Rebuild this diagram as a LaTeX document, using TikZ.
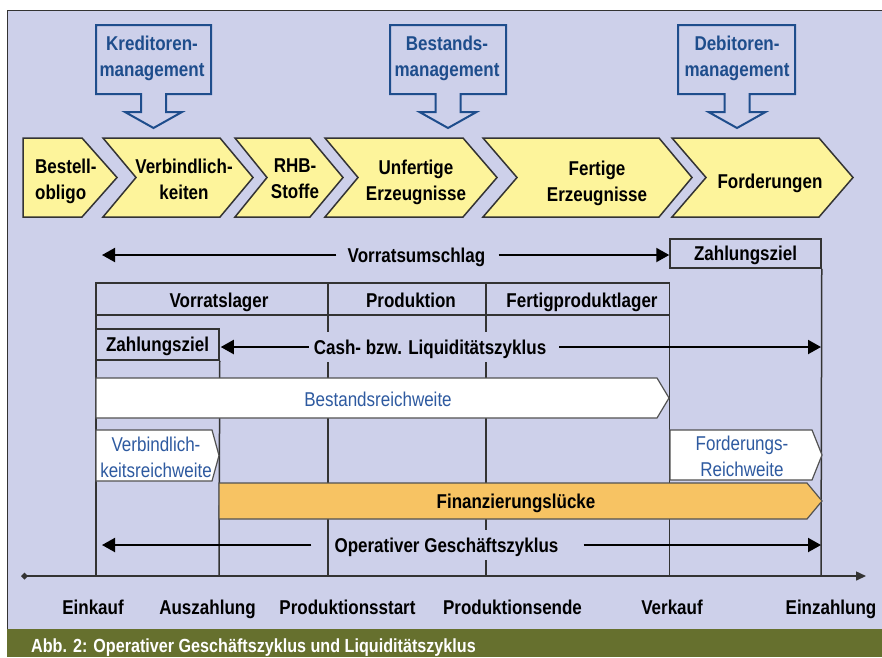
\documentclass[tikz,border=0pt]{standalone}
\usepackage{fontspec}
\setmainfont{Liberation Sans}[FakeStretch=0.85]
\usetikzlibrary{arrows.meta}
\definecolor{panel}{HTML}{CDD0EA}
\definecolor{chevfill}{HTML}{FDF49B}
\definecolor{gapfill}{HTML}{F7C363}
\definecolor{mgmtblue}{HTML}{1E4D8C}
\definecolor{rangeblue}{HTML}{2E5AA0}
\definecolor{capbar}{HTML}{66702E}
\definecolor{rulecol}{HTML}{333333}
\begin{document}
\begin{tikzpicture}[x=1pt,y=-1pt,
  every node/.style={font=\fontsize{20}{26}\selectfont, inner sep=0pt},
  lbl/.style={font=\fontsize{20}{26}\selectfont\bfseries, text height=14.5pt, text depth=0pt},
  ml/.style={font=\fontsize{20}{26}\selectfont\bfseries, align=center},
  rng/.style={font=\fontsize{20}{26}\selectfont, text=rangeblue, align=center},
  gridline/.style={draw=rulecol, line width=1.5pt},
  chev/.style={draw=rulecol, line width=1.5pt, fill=chevfill, line join=miter},
  callout/.style={draw=mgmtblue, line width=2pt, fill=panel, line join=miter},
  arr/.style={draw=black, line width=2pt, -{Triangle[length=13pt,width=14pt]}},
  band/.style={draw=rulecol!85, line width=1.2pt, line join=miter},
  cell/.style={lbl, draw=rulecol, line width=1.5pt, fill=panel},
  gap/.style={lbl, fill=panel, inner xsep=2pt, inner ysep=8pt},
]
\useasboundingbox (0,0) rectangle (882,657);
\fill[white] (0,0) rectangle (882,657);

% panel and caption bar
\fill[panel] (7,10) rectangle (882,629);
\draw[rulecol, line width=1pt] (7,629) -- (7,10) -- (882,10);
\fill[capbar] (7,629) rectangle (882,657);
\node[font=\fontsize{19}{22}\selectfont\bfseries, text=white, anchor=base west]
  (caption) at (31,652) {Abb. 2: Operativer Geschäftszyklus und Liquiditätszyklus};

% management callouts
\foreach \xa/\xb/\c in {96/211/153.5, 390/506/448, 678/795/737}{
  \draw[callout] (\xa,25) -- (\xb,25) -- (\xb,94) -- (\c+12.5,94) -- (\c+12.5,112)
    -- (\c+28.5,112) -- (\c,128) -- (\c-28.5,112) -- (\c-12.5,112) -- (\c-12.5,94)
    -- (\xa,94) -- cycle;
}
\node[ml, text=mgmtblue] (kred) at (152,58) {Kreditoren-\\management};
\node[ml, text=mgmtblue] (best) at (447,58) {Bestands-\\management};
\node[ml, text=mgmtblue] (debi) at (737,58) {Debitoren-\\management};

% value chain chevrons
\draw[chev] (23,138) -- (82,138) -- (117,177.5) -- (82,217) -- (23,217) -- cycle;
\draw[chev] (103,138) -- (220,138) -- (253,177.5) -- (220,217) -- (103,217) -- (136,177.5) -- cycle;
\draw[chev] (235,138) -- (310,138) -- (343,177.5) -- (310,217) -- (235,217) -- (267,177.5) -- cycle;
\draw[chev] (325,138) -- (463,138) -- (497,177.5) -- (463,217) -- (325,217) -- (358,177.5) -- cycle;
\draw[chev] (483,138) -- (659,138) -- (692,177.5) -- (659,217) -- (483,217) -- (517,177.5) -- cycle;
\draw[chev] (672,138) -- (819,138) -- (853,177.5) -- (819,217) -- (672,217) -- (706,177.5) -- cycle;
\node[ml, align=left, anchor=west] (obligo) at (35,181) {Bestell-\\obligo};
\node[ml] (verb) at (184,179) {Verbindlich-\\keiten};
\node[ml] (rhb) at (295,179) {RHB-\\Stoffe};
\node[ml] (unf) at (416,182) {Unfertige\\Erzeugnisse};
\node[ml] (fert) at (597,183) {Fertige\\Erzeugnisse};
\node[lbl] (ford) at (770,181) {Forderungen};

% time axis and its marks
\coordinate (axL) at (21,576);
\coordinate (axR) at (866,576);
\coordinate (tEin) at (96,576);
\coordinate (tAus) at (219,576);
\coordinate (tPs) at (328,576);
\coordinate (tPe) at (486,576);
\coordinate (tVk) at (669.5,576);
\coordinate (tEz) at (821,576);

% upper boxes and table
\node[cell, minimum width=151pt, minimum height=29pt] (zz1) at (745.5,253.5) {Zahlungsziel};
\draw[gridline] (96,283) rectangle (669.5,315);
\draw[gridline] (96,283) -- (tEin);
\draw[gridline] (328,283) -- (tPs);
\draw[gridline] (486,283) -- (tPe);
\draw[gridline] (669.5,283) -- (tVk);
\draw[gridline] (zz1.south east) -- (tEz);
\node[cell, minimum width=123pt, minimum height=31pt] (zz2) at (157.5,344.5) {Zahlungsziel};
\draw[gridline] (zz2.south east) -- (tAus);

\node[lbl] (vorr) at (219,300) {Vorratslager};
\node[lbl] (prod) at (411,300) {Produktion};
\node[lbl] (fpl) at (582,300) {Fertigproduktlager};

\draw[rulecol, line width=1.5pt, {Turned Square[length=7pt,width=7pt]}-{Triangle[length=10pt,width=9pt]}]
  (axL) -- (axR);

% range bands
\draw[band, fill=white] (96,378) -- (657,378) -- (669,398) -- (657,418) -- (96,418) -- cycle;
\draw[band, fill=white] (96,430) -- (212,430) -- (219,455.5) -- (212,481) -- (96,481) -- cycle;
\draw[band, fill=white] (670,430) -- (812,430) -- (822,455) -- (812,480) -- (670,480) -- cycle;
\draw[band, fill=gapfill] (219,483) -- (807,483) -- (822,501) -- (807,519) -- (219,519) -- cycle;
\node[rng, text height=14.5pt, text depth=0pt] (bestr) at (378,399) {Bestandsreichweite};
\node[rng] (verbr) at (156,457.5) {Verbindlich-\\keitsreichweite};
\node[rng] (fordr) at (742,456.5) {Forderungs-\\Reichweite};
\node[lbl] (fin) at (516,501.5) {Finanzierungslücke};

% cycle arrows
\node[lbl] (vu) at (416.5,255) {Vorratsumschlag};
\draw[arr] ([xshift=-11pt]vu.west) -- ([xshift=6pt]vu.west -| tEin);
\draw[arr] ([xshift=13pt]vu.east) -- (vu.east -| zz1.west);

\node[gap] (cash) at (430,347) {Cash- bzw. Liquiditätszyklus};
\draw[arr] ([xshift=-3pt]cash.west) -- ([xshift=1pt]cash.west -| zz2.east);
\draw[arr] ([xshift=11pt]cash.east) -- (cash.east -| tEz);

\node[gap] (op) at (446.5,545) {Operativer Geschäftszyklus};
\draw[arr] ([xshift=-21pt]op.west) -- ([xshift=6pt]op.west -| tEin);
\draw[arr] ([xshift=23pt]op.east) -- (op.east -| tEz);

% event labels on the axis
\node[lbl] (l1) at (93,607.5) {Einkauf};
\node[lbl] (l2) at (207.5,607.5) {Auszahlung};
\node[lbl] (l3) at (347.5,607.5) {Produktionsstart};
\node[lbl] (l4) at (512.5,607.5) {Produktionsende};
\node[lbl] (l5) at (672,607.5) {Verkauf};
\node[lbl] (l6) at (831,607.5) {Einzahlung};
\end{tikzpicture}
\end{document}
